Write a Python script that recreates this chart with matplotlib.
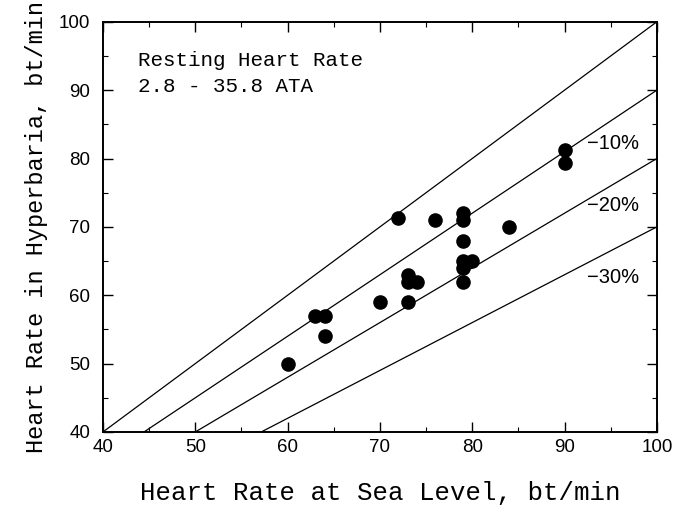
import matplotlib
matplotlib.use("Agg")
import matplotlib.pyplot as plt
import numpy as np

# heart rate at sea level vs in hyperbaria (bt/min)
sea_level = [60, 63, 64, 64, 70, 73, 73, 73, 74, 72, 76, 79, 79, 79, 79, 80, 79, 79, 84, 90, 90]
hyperbaria = [50, 57, 57, 54, 59, 59, 63, 62, 62, 71.3, 71, 72, 71, 68, 65, 65, 64, 62, 70, 81.3, 79.3]

# reference lines: fraction of sea level rate
ratios = [1.0, 0.9, 0.8, 0.7]
ratio_labels = ["\u221210%", "\u221220%", "\u221230%"]
ratio_label_y = [82.2, 73.1, 62.6]

ticks = [40, 50, 60, 70, 80, 90, 100]

mono = "Liberation Mono"
sans = "Liberation Sans"

fig = plt.figure(figsize=(6.73, 5.07), dpi=100)
ax = fig.add_axes([0.153, 0.148, 0.823, 0.809])

xx = np.array([40, 100])
for r in ratios:
    ax.plot(xx, r * xx, color="black", lw=0.9)

ax.scatter(sea_level, hyperbaria, s=90, color="black", zorder=3)

for lab, yv in zip(ratio_labels, ratio_label_y):
    ax.text(92.4, yv, lab, family=sans, fontsize=14.5, va="center")

ax.text(43.8, 94.3, "Resting Heart Rate", family=mono, fontsize=15, va="center")
ax.text(43.8, 90.6, "2.8 - 35.8 ATA", family=mono, fontsize=15, va="center")

ax.set_xlim(40, 100)
ax.set_ylim(40, 100)
ax.set_xticks(ticks)
ax.set_yticks(ticks)
ax.set_xticks(np.arange(45, 100, 10), minor=True)
ax.set_yticks(np.arange(45, 100, 10), minor=True)
ax.tick_params(which="both", direction="in", top=True, right=True, labelsize=13.5)
ax.tick_params(axis="x", which="major", pad=5)
ax.tick_params(axis="y", which="major", pad=9)
ax.tick_params(which="major", length=7, width=1)
ax.tick_params(which="minor", length=3.5, width=0.8)
for lab in ax.get_xticklabels() + ax.get_yticklabels():
    lab.set_family(sans)
for s in ax.spines.values():
    s.set_linewidth(1.4)

ax.set_xlabel("Heart Rate at Sea Level, bt/min", family=mono, fontsize=18.5, labelpad=18)
ax.set_ylabel("Heart Rate in Hyperbaria, bt/min", family=mono, fontsize=17, labelpad=8)

fig.savefig("out.png", dpi=100)
